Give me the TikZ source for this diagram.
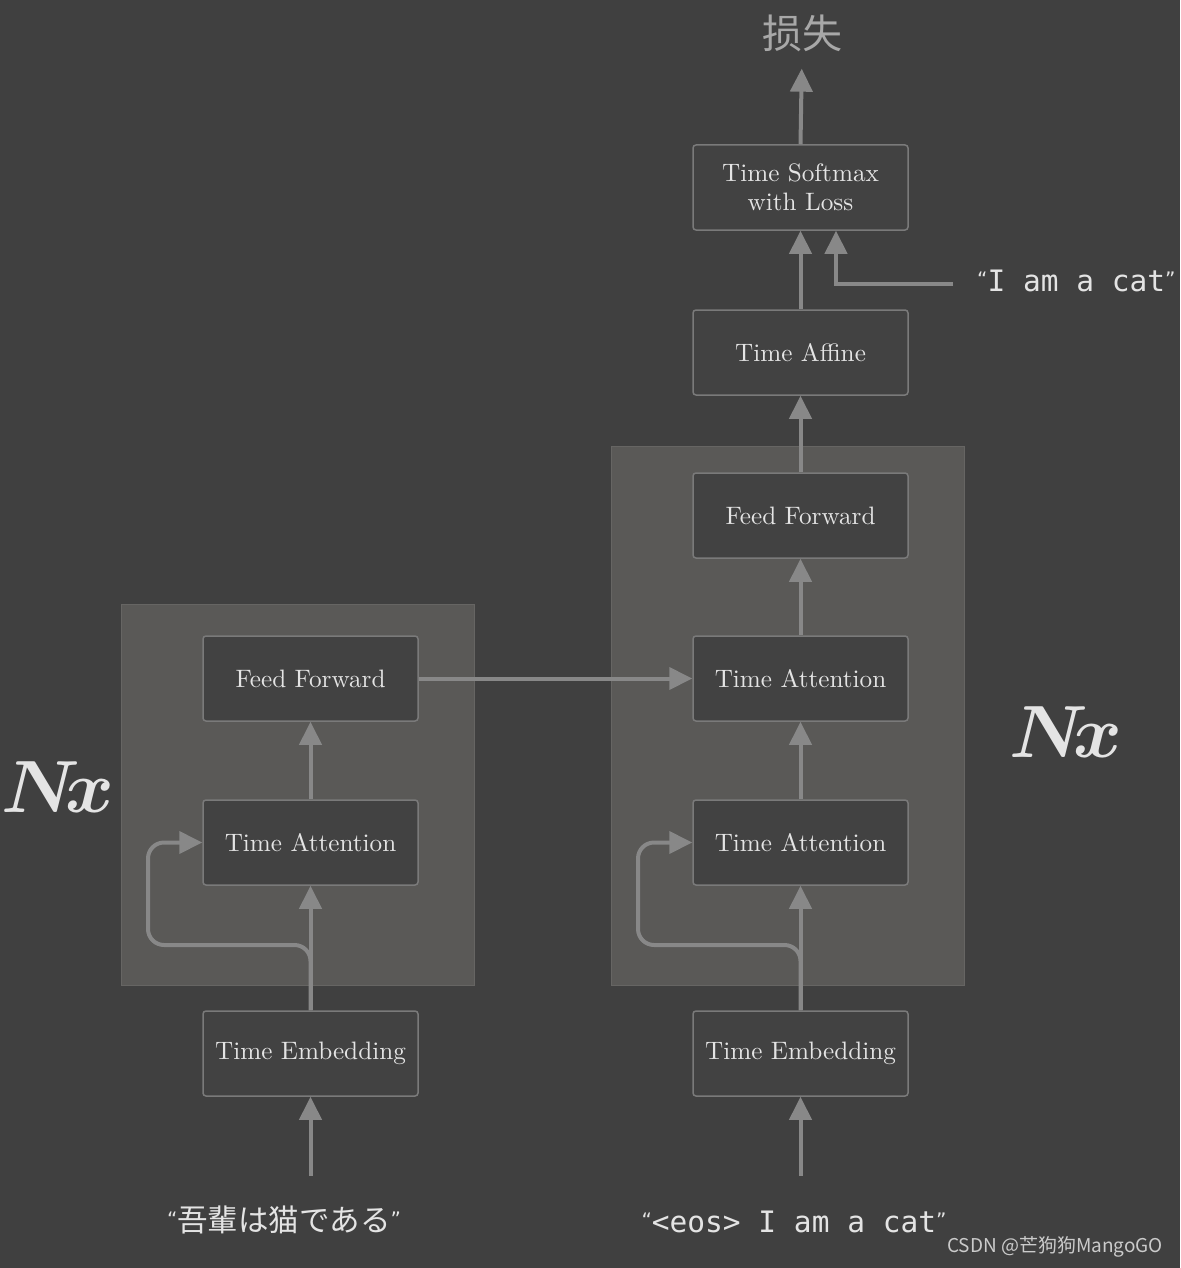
\documentclass[tikz,border=0pt]{standalone}
\usepackage{fix-cm}
\usepackage{fontspec}
\newfontfamily\boxf{lmroman10-regular}[Extension=.otf]
\newfontfamily\cjkjp{Noto Sans CJK JP}
\newfontfamily\cjksc{Noto Sans CJK SC}
\newfontfamily\monof{DejaVu Sans Mono}
\newfontfamily\quotef{DejaVu Sans}
\usetikzlibrary{arrows.meta}
\definecolor{bgc}{HTML}{404040}
\definecolor{panelc}{HTML}{5A5957}
\definecolor{panelline}{HTML}{666563}
\definecolor{boxfill}{HTML}{424242}
\definecolor{boxline}{HTML}{7A7A7A}
\definecolor{arrc}{HTML}{888888}
\definecolor{txt}{HTML}{E4E4E4}
\definecolor{losst}{HTML}{A8A8A8}
\tikzset{
  panel/.style={fill=panelc, draw=panelline, line width=1pt, minimum width=353pt, inner sep=0pt},
  box/.style={draw=boxline, fill=boxfill, rounded corners=3pt, line width=1.5pt,
    minimum width=215pt, minimum height=85pt, inner sep=0pt, text=txt, align=center,
    font=\boxf\fontsize{25.2}{29.5}\selectfont},
  arr/.style={draw=arrc, line width=4pt, -{Triangle[length=23pt,width=22pt]}},
  lbl/.style={inner sep=0pt, text=txt},
  nx/.style={inner sep=0pt, text=txt, font=\fontsize{74}{76}\selectfont\boldmath},
}
\newcommand{\oq}{{\quotef\fontsize{20}{22}\selectfont\raisebox{5pt}{“}}}
\newcommand{\cq}{{\quotef\fontsize{20}{22}\selectfont\raisebox{5pt}{”}}}
\begin{document}
\begin{tikzpicture}[x=1pt,y=-1pt]
\fill[bgc] (0,0) rectangle (1180,1268);
\useasboundingbox (0,0) rectangle (1180,1268);
% panels
\node[panel, minimum height=381pt] (lp) at (297.5,794.5) {};
\node[panel, minimum height=539pt] (rp) at (787.5,715.5) {};
% left column
\node[box] (lff) at (310.5,678.5) {Feed Forward};
\node[box] (lta) at (310.5,842.5) {Time Attention};
\node[box] (lte) at (310.5,1053.5) {Time Embedding};
% right column
\node[box] (sm) at (800.5,187.5) {Time Softmax\\with Loss};
\node[box] (aff) at (800.5,352.5) {Time Affine};
\node[box] (rff) at (800.5,515.5) {Feed Forward};
\node[box] (rta2) at (800.5,678.5) {Time Attention};
\node[box] (rta1) at (800.5,842.5) {Time Attention};
\node[box] (rte) at (800.5,1053.5) {Time Embedding};
% labels
\node[lbl, text=losst, font=\cjksc\fontsize{40}{42}\selectfont] (loss) at (802,33) {损失};
\node[lbl, anchor=west, font=\monof\fontsize{29.5}{32}\selectfont] (cat) at (977,281) {\oq I am a cat\cq};
\node[lbl, font=\cjkjp\fontsize{30.5}{32}\selectfont] (jp) at (284,1220) {\oq 吾輩は猫である\cq};
\node[lbl, font=\monof\fontsize{29.5}{32}\selectfont] (eos) at (794,1222) {\oq <eos> I am a cat\cq};
\node[nx] (nxl) at (58,787) {$N\!x$};
\node[nx] (nxr) at (1066,732) {$N\!x$};
\node[lbl, text=txt!85!bgc, font=\cjksc\fontsize{19}{20}\selectfont] (wm) at (1055,1247) {CSDN @芒狗狗MangoGO};
\coordinate (catend) at (953,284);
% connectors
\draw[arr, shorten <=30pt] (jp.north -| lte.south) -- (lte.south);
\draw[arr] (lte.north) -- (lta.south);
\draw[arr, rounded corners=16pt] (lte.north) |- (148,945) |- (lta.west);
\draw[arr] (lta.north) -- (lff.south);
\draw[arr] (lff.east) -- (rta2.west);
\draw[arr, shorten <=35pt] (eos.north -| rte.south) -- (rte.south);
\draw[arr] (rte.north) -- (rta1.south);
\draw[arr, rounded corners=16pt] (rte.north) |- (638,945) |- (rta1.west);
\draw[arr] (rta1.north) -- (rta2.south);
\draw[arr] (rta2.north) -- (rff.south);
\draw[arr] (rff.north) -- (aff.south);
\draw[arr] (aff.north) -- (sm.south);
\draw[arr] (catend) -| ([xshift=35.5pt]sm.south);
\draw[arr, shorten >=17pt] (sm.north) -- (loss.south);
\end{tikzpicture}
\end{document}
